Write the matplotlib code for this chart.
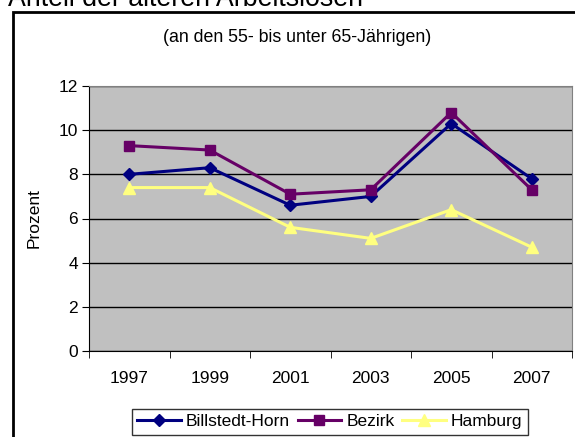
import matplotlib
matplotlib.use("Agg")
import matplotlib.pyplot as plt
from matplotlib.patches import Rectangle

years = ["1997", "1999", "2001", "2003", "2005", "2007"]
billstedt = [8.0, 8.3, 6.6, 7.0, 10.3, 7.8]
bezirk = [9.3, 9.1, 7.1, 7.3, 10.8, 7.3]
hamburg = [7.4, 7.4, 5.6, 5.1, 6.4, 4.7]
yticks = [0, 2, 4, 6, 8, 10, 12]

plt.rcParams['font.family'] = ['Liberation Sans', 'DejaVu Sans']
W, H = 575, 437
fig = plt.figure(figsize=(W / 100, H / 100), dpi=100)

def fx(px): return px / W
def fy(py): return 1 - py / H

# outer frame
fig.patches.append(Rectangle((fx(13), fy(460)), fx(600) - fx(13), fy(12) - fy(460),
                             transform=fig.transFigure, fill=False, edgecolor='black',
                             linewidth=2, zorder=0))
fig.text(fx(8), fy(6), "Anteil der älteren Arbeitslosen", fontsize=19.3, ha='left', va='baseline')
fig.text(fx(297), fy(37), "(an den 55- bis unter 65-Jährigen)", fontsize=12.8, ha='center', va='center')

ax = fig.add_axes([fx(89), fy(351), fx(572) - fx(89), fy(86) - fy(351)])
ax.set_facecolor('#C0C0C0')
x = list(range(len(years)))
ax.plot(x, billstedt, color='#000080', linewidth=2.2, marker='D', markersize=6.5, label='Billstedt-Horn', zorder=3)
ax.plot(x, bezirk, color='#660066', linewidth=2.2, marker='s', markersize=7, label='Bezirk', zorder=3)
ax.plot(x, hamburg, color='#FFFF80', linewidth=2.2, marker='^', markersize=8.5, label='Hamburg', zorder=3)

ax.set_xlim(-0.5, len(years) - 0.5)
ax.set_ylim(0, 12)
ax.set_yticks(yticks)
ax.set_yticklabels([str(v) for v in yticks], fontsize=12.5)
ax.yaxis.grid(True, color='black', linewidth=1)
ax.set_axisbelow(True)
ax.set_xticks(x)
ax.set_xticklabels(years, fontsize=12.5)
ax.tick_params(axis='x', length=0, pad=14.5)
ax.set_xticks([i - 0.5 for i in range(len(years) + 1)], minor=True)
ax.tick_params(axis='x', which='minor', length=5, direction='out', color='black')
ax.tick_params(axis='y', length=5, direction='out', color='black', pad=3)
for s in ['top', 'right']:
    ax.spines[s].set_color('#808080')
for s in ['left', 'bottom']:
    ax.spines[s].set_color('black')
ax.set_ylabel("Prozent", fontsize=12.5, labelpad=12)

leg = fig.legend(loc='upper left', bbox_to_anchor=(fx(132), fy(409)), ncol=3, fontsize=12.5,
                 frameon=True, fancybox=False, edgecolor='black', handlelength=2.5,
                 handletextpad=0.3, columnspacing=0.45, borderpad=0.3, borderaxespad=0)
leg.get_frame().set_linewidth(1)

fig.savefig("out.png", dpi=100)
